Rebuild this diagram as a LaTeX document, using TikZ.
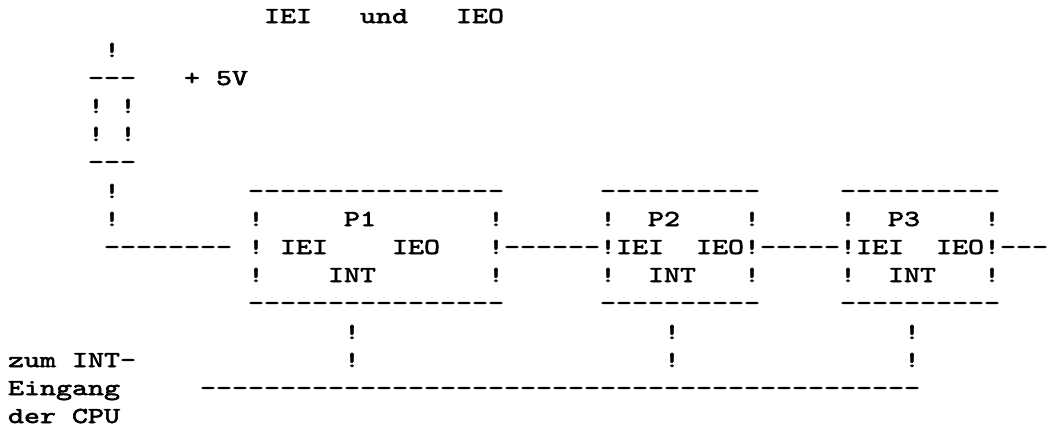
\documentclass[tikz,border=0pt]{standalone}
\usepackage{fontspec}
\newfontfamily\tw{lmmono10-regular}[Extension=.otf,FakeStretch=1.3333,FakeBold=2.5]
\tikzset{
  tt/.style={inner sep=0pt,outer sep=0pt,anchor=base west,
    font=\tw\fontsize{22.86}{28}\selectfont, text=black}
}
% \tc{name}{column}{baseline y}{text}
\newcommand\tc[4]{\node[tt] (#1) at ({8+16*#2},#3) {#4};}
\begin{document}
\begin{tikzpicture}[x=1pt,y=-1pt]
\path[use as bounding box, fill=white] (0,0) rectangle (1062,432);
% title
\tc{tIEI}{16}{23}{IEI}
\tc{tund}{22}{23}{und}
\tc{tIEO}{28}{23}{IEO}
% pull-up resistor
\tc{r0}{6}{57}{!}
\tc{r1}{5}{85}{---}
\tc{plus}{11}{85}{+}
\tc{fiveV}{13}{85}{5V}
\tc{r2a}{5}{113}{!}
\tc{r2b}{7}{113}{!}
\tc{r3a}{5}{141}{!}
\tc{r3b}{7}{141}{!}
\tc{r4}{5}{169}{---}
\tc{r5}{6}{198}{!}
\tc{r6}{6}{226}{!}
% box tops
\tc{p1top}{15}{198}{----------------}
\tc{p2top}{37}{198}{----------}
\tc{p3top}{52}{198}{----------}
% P row
\tc{p1l1}{15}{226}{!}
\tc{p1name}{21}{226}{P1}
\tc{p1r1}{30}{226}{!}
\tc{p2l1}{37}{226}{!}
\tc{p2name}{40}{226}{P2}
\tc{p2r1}{46}{226}{!}
\tc{p3l1}{52}{226}{!}
\tc{p3name}{55}{226}{P3}
\tc{p3r1}{61}{226}{!}
% main chain row
\tc{lead}{6}{254}{--------}
\tc{p1l2}{15}{254}{!}
\tc{p1iei}{17}{254}{IEI}
\tc{p1ieo}{24}{254}{IEO}
\tc{link12}{30}{254}{!------!}
\tc{p2iei}{38}{254}{IEI}
\tc{p2ieo}{43}{254}{IEO}
\tc{link23}{46}{254}{!-----!}
\tc{p3iei}{53}{254}{IEI}
\tc{p3ieo}{58}{254}{IEO}
\tc{tail}{61}{254}{!---}
% INT row
\tc{p1l3}{15}{282}{!}
\tc{p1int}{20}{282}{INT}
\tc{p1r3}{30}{282}{!}
\tc{p2l3}{37}{282}{!}
\tc{p2int}{40}{282}{INT}
\tc{p2r3}{46}{282}{!}
\tc{p3l3}{52}{282}{!}
\tc{p3int}{55}{282}{INT}
\tc{p3r3}{61}{282}{!}
% box bottoms
\tc{p1bot}{15}{310}{----------------}
\tc{p2bot}{37}{310}{----------}
\tc{p3bot}{52}{310}{----------}
% INT lines
\tc{v1a}{21}{339}{!}
\tc{v2a}{41}{339}{!}
\tc{v3a}{56}{339}{!}
\tc{v1b}{21}{367}{!}
\tc{v2b}{41}{367}{!}
\tc{v3b}{56}{367}{!}
\tc{bus}{12}{395}{---------------------------------------------}
% label
\tc{zum}{0}{367}{zum}
\tc{intm}{4}{367}{INT-}
\tc{eing}{0}{395}{Eingang}
\tc{der}{0}{423}{der}
\tc{cpu}{4}{423}{CPU}
\end{tikzpicture}
\end{document}
